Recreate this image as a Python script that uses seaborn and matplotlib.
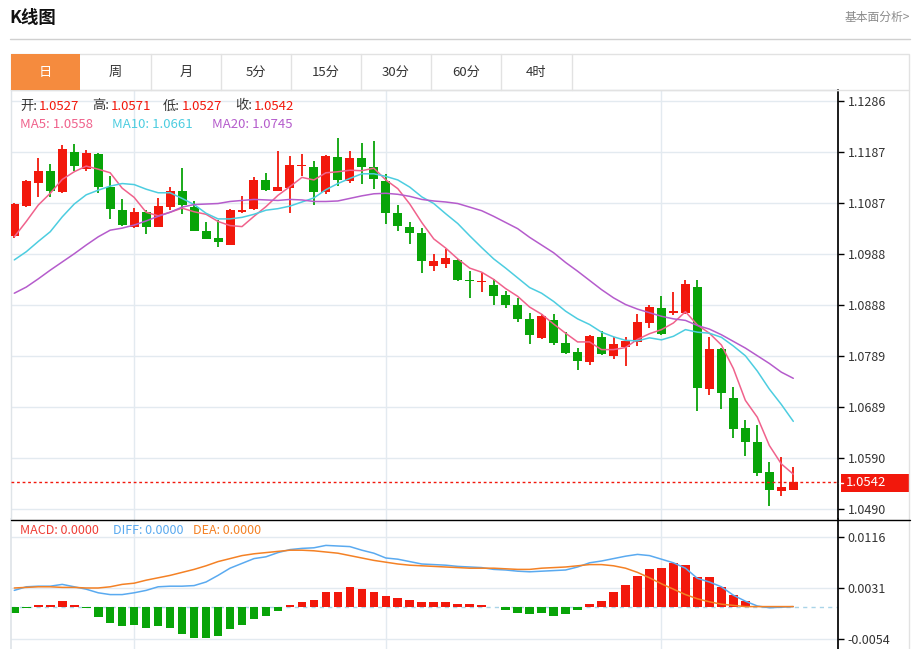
import numpy as np
import matplotlib
matplotlib.use("Agg")
import matplotlib.pyplot as plt
from matplotlib.patches import Rectangle
import seaborn as sns

# ---- data ----
opens = [1.1023, 1.1082, 1.1127, 1.1149, 1.1109, 1.1186, 1.1153, 1.1182, 1.1119, 1.1073,
         1.1040, 1.1069, 1.1041, 1.1079, 1.1110, 1.1080, 1.1033, 1.1018, 1.1006, 1.1069,
         1.1075, 1.1132, 1.1111, 1.1117, 1.1159, 1.1158, 1.1109, 1.1177, 1.1130, 1.1174,
         1.1157, 1.1130, 1.1067, 1.1041, 1.1029, 1.0965, 1.0968, 1.0976, 1.0937, 1.0932,
         1.0927, 1.0908, 1.0888, 1.0861, 1.0823, 1.0858, 1.0814, 1.0796, 1.0777, 1.0826,
         1.0788, 1.0807, 1.0816, 1.0853, 1.0883, 1.0873, 1.0873, 1.0924, 1.0725, 1.0803,
         1.0707, 1.0649, 1.0620, 1.0562, 1.0526, 1.0527]
highs = [1.1087, 1.1132, 1.1174, 1.1164, 1.1200, 1.1202, 1.1190, 1.1184, 1.1140, 1.1094,
         1.1077, 1.1073, 1.1096, 1.1119, 1.1155, 1.1090, 1.1049, 1.1054, 1.1075, 1.1101,
         1.1137, 1.1146, 1.1188, 1.1179, 1.1182, 1.1168, 1.1181, 1.1213, 1.1188, 1.1204,
         1.1208, 1.1144, 1.1083, 1.1049, 1.1038, 1.0987, 1.0997, 1.0978, 1.0954, 1.0951,
         1.0938, 1.0916, 1.0901, 1.0873, 1.0870, 1.0870, 1.0836, 1.0805, 1.0829, 1.0838,
         1.0826, 1.0825, 1.0870, 1.0888, 1.0906, 1.0914, 1.0937, 1.0937, 1.0825, 1.0804,
         1.0729, 1.0664, 1.0653, 1.0582, 1.0592, 1.0571]
lows = [1.1019, 1.1080, 1.1098, 1.1098, 1.1107, 1.1149, 1.1150, 1.1106, 1.1056, 1.1042,
        1.1039, 1.1027, 1.1040, 1.1073, 1.1065, 1.1032, 1.1016, 1.1002, 1.1005, 1.1068,
        1.1073, 1.1111, 1.1110, 1.1068, 1.1140, 1.1083, 1.1104, 1.1121, 1.1127, 1.1125,
        1.1114, 1.1046, 1.1032, 1.1008, 1.0951, 1.0954, 1.0961, 1.0935, 1.0901, 1.0914,
        1.0888, 1.0882, 1.0854, 1.0811, 1.0822, 1.0810, 1.0792, 1.0761, 1.0771, 1.0790,
        1.0782, 1.0769, 1.0808, 1.0844, 1.0829, 1.0869, 1.0870, 1.0682, 1.0712, 1.0686,
        1.0628, 1.0594, 1.0555, 1.0496, 1.0515, 1.0527]
closes = [1.1085, 1.1130, 1.1149, 1.1110, 1.1192, 1.1159, 1.1184, 1.1118, 1.1075, 1.1044,
          1.1069, 1.1041, 1.1081, 1.1110, 1.1083, 1.1033, 1.1017, 1.1010, 1.1073, 1.1073,
          1.1132, 1.1112, 1.1118, 1.1161, 1.1162, 1.1109, 1.1179, 1.1131, 1.1175, 1.1157,
          1.1133, 1.1067, 1.1043, 1.1028, 1.0974, 1.0974, 1.0979, 1.0937, 1.0935, 1.0934,
          1.0906, 1.0888, 1.0860, 1.0830, 1.0867, 1.0813, 1.0794, 1.0779, 1.0827, 1.0792,
          1.0811, 1.0818, 1.0855, 1.0884, 1.0831, 1.0876, 1.0929, 1.0727, 1.0802, 1.0716,
          1.0647, 1.0621, 1.0561, 1.0527, 1.0532, 1.0542]

ma5 = [1.1021, 1.1051, 1.1083, 1.1106, 1.1133, 1.1148, 1.1159, 1.1153, 1.1146, 1.1116,
       1.1098, 1.1069, 1.1062, 1.1069, 1.1077, 1.1070, 1.1065, 1.1051, 1.1043, 1.1041,
       1.1061, 1.1080, 1.1102, 1.1119, 1.1137, 1.1132, 1.1146, 1.1148, 1.1151, 1.1150,
       1.1155, 1.1132, 1.1115, 1.1085, 1.1049, 1.1017, 1.0999, 1.0978, 1.0960, 1.0952,
       1.0938, 1.0920, 1.0905, 1.0884, 1.0870, 1.0851, 1.0833, 1.0816, 1.0816, 1.0801,
       1.0801, 1.0805, 1.0821, 1.0832, 1.0840, 1.0853, 1.0875, 1.0849, 1.0833, 1.0810,
       1.0764, 1.0702, 1.0669, 1.0614, 1.0578, 1.0558]
ma10 = [1.0976, 1.0992, 1.1012, 1.1031, 1.1060, 1.1085, 1.1103, 1.1112, 1.1120, 1.1125,
        1.1123, 1.1114, 1.1107, 1.1107, 1.1096, 1.1084, 1.1067, 1.1056, 1.1056, 1.1059,
        1.1065, 1.1073, 1.1076, 1.1081, 1.1089, 1.1097, 1.1113, 1.1125, 1.1135, 1.1144,
        1.1144, 1.1139, 1.1132, 1.1118, 1.1099, 1.1086, 1.1066, 1.1047, 1.1023, 1.1000,
        1.0978, 1.0960, 1.0941, 1.0922, 1.0911, 1.0895, 1.0876, 1.0861, 1.0850, 1.0835,
        1.0826, 1.0819, 1.0818, 1.0824, 1.0820, 1.0827, 1.0840, 1.0835, 1.0833, 1.0825,
        1.0808, 1.0789, 1.0759, 1.0724, 1.0694, 1.0661]
ma20 = [1.0911, 1.0923, 1.0939, 1.0956, 1.0972, 1.0988, 1.1005, 1.1021, 1.1034, 1.1038,
        1.1044, 1.1052, 1.1061, 1.1069, 1.1079, 1.1084, 1.1085, 1.1086, 1.1090, 1.1092,
        1.1094, 1.1093, 1.1092, 1.1094, 1.1093, 1.1090, 1.1090, 1.1091, 1.1096, 1.1101,
        1.1105, 1.1106, 1.1104, 1.1100, 1.1094, 1.1091, 1.1089, 1.1086, 1.1079, 1.1072,
        1.1061, 1.1049, 1.1037, 1.1020, 1.1005, 1.0990, 1.0971, 1.0954, 1.0936, 1.0918,
        1.0902, 1.0889, 1.0880, 1.0873, 1.0866, 1.0861, 1.0858, 1.0848, 1.0841, 1.0830,
        1.0817, 1.0804, 1.0789, 1.0774, 1.0757, 1.0745]

macd_hist = [-0.0011, -0.0002, 0.0003, 0.0002, 0.0009, 0.0003, -0.0003, -0.0018, -0.0027, -0.0032,
             -0.0031, -0.0035, -0.0032, -0.0036, -0.0045, -0.0053, -0.0053, -0.0049, -0.0037, -0.0030,
             -0.0020, -0.0016, -0.0008, 0.0003, 0.0007, 0.0011, 0.0024, 0.0025, 0.0032, 0.0030,
             0.0025, 0.0017, 0.0014, 0.0011, 0.0007, 0.0008, 0.0008, 0.0005, 0.0005, 0.0003,
             -0.0001, -0.0006, -0.0010, -0.0012, -0.0010, -0.0015, -0.0013, -0.0006, 0.0005, 0.0010,
             0.0024, 0.0036, 0.0051, 0.0062, 0.0065, 0.0072, 0.0070, 0.0049, 0.0050, 0.0033,
             0.0020, 0.0010, 0.0, 0.0, 0.0, 0.0]
diff = [0.0027, 0.0033, 0.0034, 0.0034, 0.0037, 0.0033, 0.0029, 0.0023, 0.0020, 0.0020,
        0.0023, 0.0027, 0.0033, 0.0034, 0.0034, 0.0035, 0.0041, 0.0052, 0.0064, 0.0072,
        0.0080, 0.0083, 0.0090, 0.0095, 0.0097, 0.0098, 0.0102, 0.0101, 0.0100, 0.0094,
        0.0089, 0.0081, 0.0079, 0.0075, 0.0071, 0.0070, 0.0069, 0.0067, 0.0066, 0.0065,
        0.0062, 0.0061, 0.0059, 0.0058, 0.0059, 0.0060, 0.0061, 0.0066, 0.0073, 0.0076,
        0.0080, 0.0084, 0.0087, 0.0085, 0.0079, 0.0073, 0.0064, 0.0047, 0.0041, 0.0033,
        0.0019, 0.0009, 0.0001, -0.0002, -0.0001, 0.0]
dea = [0.0031, 0.0032, 0.0033, 0.0033, 0.0032, 0.0032, 0.0031, 0.0031, 0.0033, 0.0037,
       0.0039, 0.0044, 0.0048, 0.0052, 0.0057, 0.0062, 0.0068, 0.0075, 0.0080, 0.0085,
       0.0088, 0.0090, 0.0092, 0.0094, 0.0094, 0.0093, 0.0091, 0.0089, 0.0085, 0.0081,
       0.0077, 0.0074, 0.0071, 0.0069, 0.0068, 0.0067, 0.0066, 0.0065, 0.0064, 0.0064,
       0.0064, 0.0063, 0.0062, 0.0062, 0.0064, 0.0065, 0.0066, 0.0068, 0.0070, 0.0070,
       0.0068, 0.0064, 0.0057, 0.0048, 0.0038, 0.0029, 0.0020, 0.0013, 0.0008, 0.0004,
       0.0002, 0.0000, 0.0, 0.0, 0.0, 0.0]

price_ticks = [1.0490, 1.05895, 1.0689, 1.07885, 1.0888, 1.09875, 1.1087, 1.11865, 1.1286]
price_labels = ["1.0490", "1.0590", "1.0689", "1.0789", "1.0888", "1.0988", "1.1087", "1.1187", "1.1286"]
macd_ticks = [-0.0054, 0.0031, 0.0116]
macd_labels = ["-0.0054", "0.0031", "0.0116"]
month_marks = [10, 31, 54]          # vertical grid lines sit on these candles
tabs = ["日", "周", "月", "5分", "15分", "30分", "60分", "4时"]
last_price = 1.0542

# ---- colours ----
RED = "#f2180c"
GREEN = "#08a408"
C_MA5, C_MA10, C_MA20 = "#f0628c", "#4dcde0", "#b55ccc"
C_DIFF, C_DEA = "#5aaaf0", "#f48125"
GRID = "#e3eaf0"
TXT = "#333333"

sns.set_theme(style="white")
plt.rcParams['font.family'] = ['Noto Sans CJK SC', 'DejaVu Sans']
plt.rcParams['axes.unicode_minus'] = False

W, H = 914, 649
fig = plt.figure(figsize=(W / 100, H / 100), dpi=100)
fig.patch.set_facecolor("white")

def fx(px):
    return px / W

def fy(py):
    return 1 - py / H

idx = np.arange(len(opens))
o, h, l, c = map(np.array, (opens, highs, lows, closes))
up = c >= o
cols = np.where(up, RED, GREEN)
x_lim = (-0.275, 68.73)

# ---- price panel ----
ax = fig.add_axes([fx(11), fy(519), fx(838) - fx(11), fy(90) - fy(519)])
ax.set_facecolor("white")
for t in price_ticks:
    ax.axhline(t, color=GRID, lw=1, zorder=0)
for m in month_marks:
    ax.axvline(m, color=GRID, lw=1, zorder=0)

ax.vlines(idx, l, h, colors=cols, lw=1.3, zorder=2)
body = np.maximum(np.abs(c - o), 0.00022)
ax.bar(idx, body, bottom=np.minimum(o, c), width=0.75, color=cols, lw=0, zorder=3)

sns.lineplot(x=idx, y=ma5, ax=ax, color=C_MA5, lw=1.1, zorder=4)
sns.lineplot(x=idx, y=ma10, ax=ax, color=C_MA10, lw=1.1, zorder=4)
sns.lineplot(x=idx, y=ma20, ax=ax, color=C_MA20, lw=1.1, zorder=4)

ax.axhline(last_price, color=RED, lw=1, ls=(0, (2, 2)), zorder=5)

ax.set_xlim(*x_lim)
ax.set_ylim(1.04705, 1.13075)
ax.yaxis.tick_right()
ax.set_yticks(price_ticks)
ax.set_yticklabels(price_labels)
ax.set_xticks([])
ax.tick_params(axis="y", right=True, length=4, width=1, color="black",
               labelsize=9, labelcolor=TXT, pad=3)
ax.set_xlabel("")
ax.set_ylabel("")
for side in ["left", "top"]:
    ax.spines[side].set_color("#dfe4e8")
    ax.spines[side].set_linewidth(1)
ax.spines["right"].set_color("black")
ax.spines["bottom"].set_visible(False)

# ---- MACD panel ----
ax2 = fig.add_axes([fx(11), fy(649), fx(838) - fx(11), fy(519) - fy(649)])
ax2.set_facecolor("white")
for t in macd_ticks:
    ax2.axhline(t, color=GRID, lw=1, zorder=0)
for m in month_marks:
    ax2.axvline(m, color=GRID, lw=1, zorder=0)
hist = np.array(macd_hist)
ax2.bar(idx, hist, width=0.72, color=np.where(hist >= 0, RED, GREEN), lw=0, zorder=2)
ax2.axhline(0, color="#a9d4e8", lw=1, ls=(0, (3, 3)), zorder=1)
sns.lineplot(x=idx, y=diff, ax=ax2, color=C_DIFF, lw=1.1, zorder=3)
sns.lineplot(x=idx, y=dea, ax=ax2, color=C_DEA, lw=1.1, zorder=3)
ax2.set_xlim(*x_lim)
ax2.set_ylim(-0.00707, 0.0146)
ax2.yaxis.tick_right()
ax2.set_yticks(macd_ticks)
ax2.set_yticklabels(macd_labels)
ax2.set_xticks([])
ax2.tick_params(axis="y", right=True, length=4, width=1, color="black",
                labelsize=9, labelcolor=TXT, pad=3)
ax2.set_xlabel("")
ax2.set_ylabel("")
ax2.spines["left"].set_color("#dfe4e8")
ax2.spines["right"].set_color("black")
ax2.spines["top"].set_visible(False)
ax2.spines["bottom"].set_visible(False)

# ---- page furniture in pixel coordinates ----
ov = fig.add_axes([0, 0, 1, 1], zorder=10)
ov.set_xlim(0, W)
ov.set_ylim(H, 0)
ov.axis("off")
ov.patch.set_visible(False)

ov.text(9, 18, "K线图", fontsize=12.5, fontweight="bold", color="#111111", va="center", ha="left")
ov.text(910, 17, "基本面分析>", fontsize=8.5, color="#8a8a8a", va="center", ha="right")
ov.plot([10, 910], [38.5, 38.5], color="#d0d0d0", lw=1)

# tab bar
edges = [11, 80, 151, 221, 291, 361, 431, 501, 572]
ov.add_patch(Rectangle((11, 54), 898, 36, fill=False, ec="#e2e2e2", lw=1))
for i, name in enumerate(tabs):
    x0, x1 = edges[i], edges[i + 1]
    if i == 0:
        ov.add_patch(Rectangle((x0, 54), x1 - x0, 36, fc="#f58b3e", ec="none"))
    else:
        ov.plot([x1, x1], [54, 90], color="#e2e2e2", lw=1)
    ov.text((x0 + x1) / 2, 72.5, name, fontsize=9.5, ha="center", va="center",
            color="white" if i == 0 else TXT)

# outer frame and panel separator
ov.plot([909, 909], [90, 649], color="#e2e2e2", lw=1)
ov.plot([11, 910], [519.5, 519.5], color="black", lw=1)

# OHLC header
ohlc_bits = [("开:", 20, TXT), ("%.4f" % opens[-1], 39, RED),
             ("高:", 92, TXT), ("%.4f" % highs[-1], 111, RED),
             ("低:", 163, TXT), ("%.4f" % lows[-1], 182, RED),
             ("收:", 235, TXT), ("%.4f" % closes[-1], 254, RED)]
for s, xp, col in ohlc_bits:
    ov.text(xp, 106, s, fontsize=9.5, color=col, va="center", ha="left")
ma_bits = [("MA5: %.4f" % ma5[-1], 20, C_MA5), ("MA10: %.4f" % ma10[-1], 112, C_MA10),
           ("MA20: %.4f" % ma20[-1], 212, C_MA20)]
for s, xp, col in ma_bits:
    ov.text(xp, 125, s, fontsize=9.5, color=col, va="center", ha="left")

macd_bits = [("MACD: 0.0000", 20, "#ef3e36"), ("DIFF: 0.0000", 113, C_DIFF), ("DEA: 0.0000", 193, C_DEA)]
for s, xp, col in macd_bits:
    ov.text(xp, 530, s, fontsize=9, color=col, va="center", ha="left")

# last price tag
ov.add_patch(Rectangle((841, 474), 69, 18, fc=RED, ec="none"))
ov.plot([839, 843], [483, 483], color="white", lw=1)
ov.text(846, 483, "%.4f" % last_price, fontsize=9.5, color="white", va="center", ha="left")

fig.savefig("out.png", dpi=100)
